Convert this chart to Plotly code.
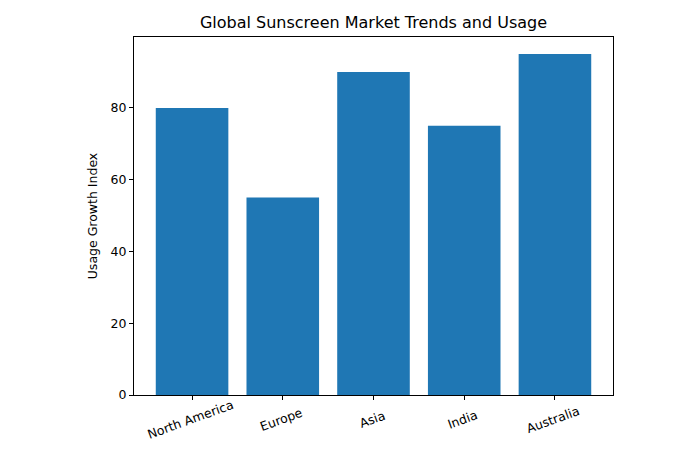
import plotly.graph_objects as go

regions = ["North America", "Europe", "Asia", "India", "Australia"]
usage = [80, 55, 90, 75, 95]

xs = list(range(len(regions)))
fig = go.Figure(go.Bar(x=xs, y=usage, width=0.8,
                       marker=dict(color="#1f77b4", line=dict(width=0))))
for x, lab in zip(xs, regions):
    fig.add_annotation(x=x, xref="x", y=0, yref="paper", yshift=-24, xshift=-2, text=lab,
                       textangle=-20, showarrow=False, xanchor="center", yanchor="middle",
                       font=dict(size=12.5))
fig.update_layout(
    width=700, height=450, plot_bgcolor="white", paper_bgcolor="white",
    margin=dict(l=126, r=95, t=29, b=63, autoexpand=False),
    font=dict(family="DejaVu Sans", size=12.5, color="black"),
    title=dict(text="Global Sunscreen Market Trends and Usage", x=0.5, xanchor="center",
               xref="paper", y=1 - 14/450, yref="container", yanchor="middle",
               font=dict(size=16)),
    showlegend=False,
)
fig.update_xaxes(range=[-0.64, 4.64], tickmode="array", tickvals=xs,
                 showticklabels=False, showgrid=False, zeroline=False, automargin=False,
                 showline=True, linecolor="black", mirror=True, ticks="outside",
                 ticklen=4, tickcolor="black")
fig.update_yaxes(range=[0, 99.75], tickvals=[0, 20, 40, 60, 80], showgrid=False,
                 zeroline=False, showline=True, linecolor="black", mirror=True, automargin=False,
                 ticks="outside", ticklen=4, tickcolor="black",
                 title=dict(text="Usage Growth Index", font=dict(size=12.5), standoff=10))
fig.write_html("out.html")
